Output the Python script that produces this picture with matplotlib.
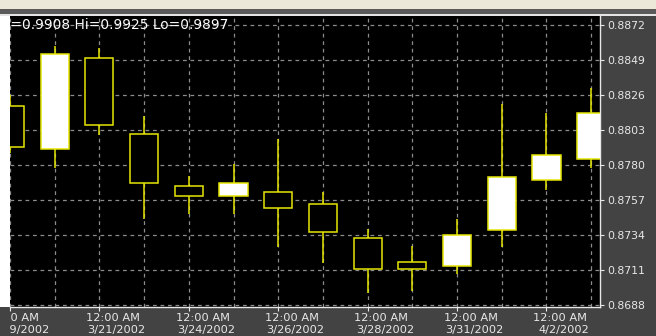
import matplotlib

matplotlib.use("Agg")
import matplotlib.pyplot as plt
from matplotlib.patches import Rectangle
from matplotlib.transforms import Bbox, TransformedBbox, blended_transform_factory

# daily OHLC candles (index 0 = 3/19/2002)
opens = [0.88188, 0.87903, 0.88503, 0.88006, 0.87662, 0.87598, 0.87623,
         0.87544, 0.87318, 0.87161, 0.87136, 0.87373, 0.87701, 0.87837]
highs = [0.88260, 0.88584, 0.88567, 0.88124, 0.87728, 0.87807, 0.87969,
         0.87623, 0.87377, 0.87268, 0.87445, 0.88201, 0.88144, 0.88308]
lows = [0.87880, 0.87782, 0.87997, 0.87443, 0.87476, 0.87476, 0.87263,
        0.87158, 0.86957, 0.86974, 0.87082, 0.87259, 0.87636, 0.87780]
closes = [0.87916, 0.88527, 0.88061, 0.87680, 0.87598, 0.87680, 0.87519,
          0.87360, 0.87115, 0.87115, 0.87340, 0.87723, 0.87866, 0.88144]

date_labels = ["3/19/2002", "3/21/2002", "3/24/2002", "3/26/2002",
               "3/28/2002", "3/31/2002", "4/2/2002"]
label_idx = [0, 2, 4, 6, 8, 10, 12]
y_ticks = [0.8688, 0.8711, 0.8734, 0.8757, 0.8780, 0.8803, 0.8826, 0.8849, 0.8872]
info_text = "Cl=0.9908 Hi=0.9925 Lo=0.9897"

W, H = 656, 336
PANEL = "#434343"
YELLOW = "#e6e600"

fig = plt.figure(figsize=(W / 100, H / 100), dpi=100, facecolor=PANEL)

# window chrome: top strip and white left margin
fig.patches.append(Rectangle((0, 1 - 9 / H), 1, 9 / H, transform=fig.transFigure,
                             facecolor="#ece9d8", edgecolor="none", zorder=0))
fig.patches.append(Rectangle((0, 1 - 13.5 / H), 1, 4.5 / H, transform=fig.transFigure,
                             facecolor="#5a5a5a", edgecolor="none", zorder=0))
fig.patches.append(Rectangle((0, 1 - 15.5 / H), 1, 2 / H, transform=fig.transFigure,
                             facecolor="#e4e4e4", edgecolor="none", zorder=0))
fig.patches.append(Rectangle((0, 29 / H), 10 / W, (H - 29 - 15.5) / H,
                             transform=fig.transFigure,
                             facecolor="white", edgecolor="none", zorder=0))

ax = fig.add_axes([10 / W, 29 / H, 590 / W, (307 - 16) / H])
ax.set_facecolor("black")

px_per_unit = 45.45
xmin = (10 - 0.2) / px_per_unit
xmax = (600 - 0.2) / px_per_unit
ax.set_xlim(xmin, xmax)
ax.set_ylim(0.8688 - 2 / 15217, 0.8872 + 9 / 15217)

idx = list(range(len(opens)))
body_w = 0.63
for i in idx:
    o, h, l, c = opens[i], highs[i], lows[i], closes[i]
    ax.vlines(i, l, h, color=YELLOW, linewidth=1.1, zorder=2)
    lo, hi = min(o, c), max(o, c)
    face = "white" if c > o else "black"
    ax.add_patch(Rectangle((i - body_w / 2, lo), body_w, hi - lo,
                           facecolor=face, edgecolor=YELLOW, linewidth=1.1, zorder=3))

ax.set_yticks(y_ticks)
ax.set_yticklabels([f"{v:.4f}" for v in y_ticks])
ax.set_xticks(label_idx)
ax.set_xticks([i for i in idx if i not in label_idx], minor=True)
ax.set_xticklabels([])
ax.yaxis.tick_right()
ax.tick_params(axis="y", colors="#e8e8e8", labelsize=7.8, length=3, pad=2)
ax.tick_params(axis="x", which="major", colors="#e8e8e8", length=3)
ax.tick_params(axis="x", which="minor", length=0)
ax.grid(True, which="both", color="#8c8c8c", linestyle=(0, (3, 3)), linewidth=0.9)
ax.set_axisbelow(True)

for side in ["top", "left"]:
    ax.spines[side].set_visible(False)
for side in ["right", "bottom"]:
    ax.spines[side].set_color("#e8e8e8")
    ax.spines[side].set_linewidth(1.0)

clip = TransformedBbox(Bbox.from_extents(10 / W, 0, 1, 1), fig.transFigure)
trans = blended_transform_factory(ax.transData, fig.transFigure)
for i, d in zip(label_idx, date_labels):
    # the first label sits a little further left, so only its tail shows
    off1, off2 = (2, 10) if i == 0 else (14, 17.5)
    t1 = ax.text(i + off1 / px_per_unit, 1 - 318 / H, "12:00 AM", transform=trans,
                 ha="center", va="center", color="#e8e8e8", fontsize=8.2)
    t2 = ax.text(i + off2 / px_per_unit, 1 - 330.5 / H, d, transform=trans,
                 ha="center", va="center", color="#e8e8e8", fontsize=8.2)
    for t in (t1, t2):
        t.set_clip_box(clip)
        t.set_clip_on(True)

ti = fig.text(-3 / W, 1 - 25 / H, info_text, ha="left", va="center",
              color="white", fontsize=9.9)
ti.set_clip_box(clip)
ti.set_clip_on(True)

fig.savefig("out.png", dpi=100, facecolor=fig.get_facecolor())
